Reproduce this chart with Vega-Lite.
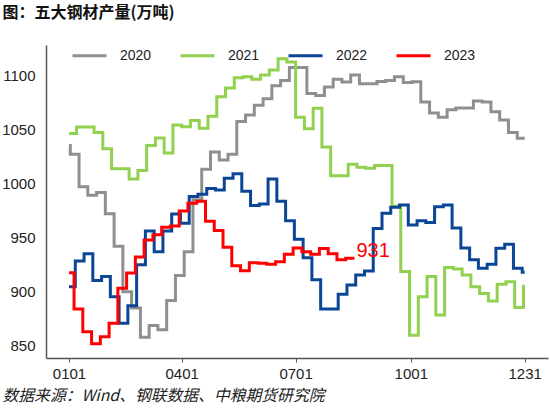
{
  "$schema": "https://vega.github.io/schema/vega-lite/v6.json",
  "width": 502,
  "height": 313,
  "autosize": {"type": "none"},
  "padding": {"left": 46, "top": 45, "right": 2, "bottom": 57},
  "background": "white",
  "config": {
    "view": {"stroke": null},
    "font": "Liberation Sans"
  },
  "layer": [
    {
      "data": {
        "values": [
          {"year": "2020", "day": 0, "value": 1035},
          {"year": "2020", "day": 1, "value": 1027},
          {"year": "2020", "day": 8, "value": 997},
          {"year": "2020", "day": 15, "value": 989},
          {"year": "2020", "day": 22, "value": 991.5},
          {"year": "2020", "day": 29, "value": 972},
          {"year": "2020", "day": 36, "value": 942},
          {"year": "2020", "day": 43, "value": 900},
          {"year": "2020", "day": 50, "value": 885},
          {"year": "2020", "day": 57, "value": 858},
          {"year": "2020", "day": 64, "value": 869},
          {"year": "2020", "day": 71, "value": 865},
          {"year": "2020", "day": 78, "value": 892},
          {"year": "2020", "day": 85, "value": 915},
          {"year": "2020", "day": 92, "value": 937},
          {"year": "2020", "day": 99, "value": 985},
          {"year": "2020", "day": 106, "value": 1013},
          {"year": "2020", "day": 113, "value": 1029},
          {"year": "2020", "day": 120, "value": 1021.6},
          {"year": "2020", "day": 127, "value": 1027},
          {"year": "2020", "day": 134, "value": 1057},
          {"year": "2020", "day": 141, "value": 1063},
          {"year": "2020", "day": 148, "value": 1072},
          {"year": "2020", "day": 155, "value": 1078},
          {"year": "2020", "day": 162, "value": 1090},
          {"year": "2020", "day": 169, "value": 1095},
          {"year": "2020", "day": 176, "value": 1107},
          {"year": "2020", "day": 183, "value": 1107},
          {"year": "2020", "day": 190, "value": 1083},
          {"year": "2020", "day": 197, "value": 1081},
          {"year": "2020", "day": 204, "value": 1089},
          {"year": "2020", "day": 211, "value": 1096},
          {"year": "2020", "day": 218, "value": 1093.5},
          {"year": "2020", "day": 225, "value": 1100},
          {"year": "2020", "day": 232, "value": 1092},
          {"year": "2020", "day": 239, "value": 1092},
          {"year": "2020", "day": 246, "value": 1094},
          {"year": "2020", "day": 253, "value": 1095},
          {"year": "2020", "day": 260, "value": 1098.5},
          {"year": "2020", "day": 267, "value": 1093},
          {"year": "2020", "day": 274, "value": 1093.8},
          {"year": "2020", "day": 281, "value": 1075},
          {"year": "2020", "day": 288, "value": 1065},
          {"year": "2020", "day": 295, "value": 1061},
          {"year": "2020", "day": 302, "value": 1068},
          {"year": "2020", "day": 309, "value": 1069.5},
          {"year": "2020", "day": 316, "value": 1069.5},
          {"year": "2020", "day": 323, "value": 1076},
          {"year": "2020", "day": 330, "value": 1075},
          {"year": "2020", "day": 337, "value": 1066},
          {"year": "2020", "day": 344, "value": 1058.5},
          {"year": "2020", "day": 351, "value": 1047},
          {"year": "2020", "day": 358, "value": 1041.6},
          {"year": "2020", "day": 364, "value": 1041.6},

          {"year": "2021", "day": 0, "value": 1046},
          {"year": "2021", "day": 6, "value": 1052},
          {"year": "2021", "day": 13, "value": 1052},
          {"year": "2021", "day": 20, "value": 1047},
          {"year": "2021", "day": 27, "value": 1032},
          {"year": "2021", "day": 34, "value": 1013.5},
          {"year": "2021", "day": 41, "value": 1013.5},
          {"year": "2021", "day": 48, "value": 1004},
          {"year": "2021", "day": 55, "value": 1012},
          {"year": "2021", "day": 62, "value": 1035},
          {"year": "2021", "day": 69, "value": 1042},
          {"year": "2021", "day": 76, "value": 1028},
          {"year": "2021", "day": 83, "value": 1054},
          {"year": "2021", "day": 90, "value": 1052.3},
          {"year": "2021", "day": 97, "value": 1058},
          {"year": "2021", "day": 104, "value": 1051},
          {"year": "2021", "day": 111, "value": 1062},
          {"year": "2021", "day": 118, "value": 1080},
          {"year": "2021", "day": 125, "value": 1088},
          {"year": "2021", "day": 132, "value": 1097.5},
          {"year": "2021", "day": 139, "value": 1098.5},
          {"year": "2021", "day": 146, "value": 1096},
          {"year": "2021", "day": 153, "value": 1100},
          {"year": "2021", "day": 160, "value": 1104.6},
          {"year": "2021", "day": 167, "value": 1115},
          {"year": "2021", "day": 174, "value": 1112},
          {"year": "2021", "day": 181, "value": 1061},
          {"year": "2021", "day": 188, "value": 1050.5},
          {"year": "2021", "day": 195, "value": 1069.3},
          {"year": "2021", "day": 202, "value": 1033.5},
          {"year": "2021", "day": 209, "value": 1007},
          {"year": "2021", "day": 216, "value": 1007},
          {"year": "2021", "day": 223, "value": 1017.6},
          {"year": "2021", "day": 230, "value": 1015},
          {"year": "2021", "day": 237, "value": 1014},
          {"year": "2021", "day": 244, "value": 1016.5},
          {"year": "2021", "day": 251, "value": 1016.5},
          {"year": "2021", "day": 258, "value": 979},
          {"year": "2021", "day": 265, "value": 918.6},
          {"year": "2021", "day": 272, "value": 860},
          {"year": "2021", "day": 279, "value": 895.5},
          {"year": "2021", "day": 286, "value": 914},
          {"year": "2021", "day": 293, "value": 878.6},
          {"year": "2021", "day": 300, "value": 922.3},
          {"year": "2021", "day": 307, "value": 921},
          {"year": "2021", "day": 314, "value": 915.5},
          {"year": "2021", "day": 321, "value": 904.7},
          {"year": "2021", "day": 328, "value": 898.3},
          {"year": "2021", "day": 335, "value": 891.5},
          {"year": "2021", "day": 342, "value": 907},
          {"year": "2021", "day": 349, "value": 909.3},
          {"year": "2021", "day": 356, "value": 885.5},
          {"year": "2021", "day": 363, "value": 905},
          {"year": "2021", "day": 364, "value": 905},

          {"year": "2022", "day": 0, "value": 904.7},
          {"year": "2022", "day": 5, "value": 928.5},
          {"year": "2022", "day": 12, "value": 935},
          {"year": "2022", "day": 19, "value": 910.5},
          {"year": "2022", "day": 26, "value": 914},
          {"year": "2022", "day": 33, "value": 895.5},
          {"year": "2022", "day": 40, "value": 871},
          {"year": "2022", "day": 47, "value": 887},
          {"year": "2022", "day": 54, "value": 925},
          {"year": "2022", "day": 61, "value": 956},
          {"year": "2022", "day": 68, "value": 937},
          {"year": "2022", "day": 75, "value": 956},
          {"year": "2022", "day": 82, "value": 971.7},
          {"year": "2022", "day": 89, "value": 963.2},
          {"year": "2022", "day": 96, "value": 987.8},
          {"year": "2022", "day": 103, "value": 990},
          {"year": "2022", "day": 110, "value": 995.4},
          {"year": "2022", "day": 117, "value": 994},
          {"year": "2022", "day": 124, "value": 1004.7},
          {"year": "2022", "day": 131, "value": 1009},
          {"year": "2022", "day": 138, "value": 992.7},
          {"year": "2022", "day": 145, "value": 979.5},
          {"year": "2022", "day": 152, "value": 981},
          {"year": "2022", "day": 159, "value": 1004},
          {"year": "2022", "day": 166, "value": 983.5},
          {"year": "2022", "day": 173, "value": 965.5},
          {"year": "2022", "day": 180, "value": 948.5},
          {"year": "2022", "day": 187, "value": 931.5},
          {"year": "2022", "day": 194, "value": 911},
          {"year": "2022", "day": 201, "value": 884},
          {"year": "2022", "day": 208, "value": 884},
          {"year": "2022", "day": 215, "value": 897.7},
          {"year": "2022", "day": 222, "value": 906.3},
          {"year": "2022", "day": 229, "value": 915.5},
          {"year": "2022", "day": 236, "value": 919.2},
          {"year": "2022", "day": 243, "value": 958.5},
          {"year": "2022", "day": 250, "value": 972.4},
          {"year": "2022", "day": 257, "value": 978},
          {"year": "2022", "day": 264, "value": 980},
          {"year": "2022", "day": 271, "value": 961.6},
          {"year": "2022", "day": 278, "value": 965.6},
          {"year": "2022", "day": 285, "value": 964},
          {"year": "2022", "day": 292, "value": 978.5},
          {"year": "2022", "day": 299, "value": 980},
          {"year": "2022", "day": 306, "value": 958.8},
          {"year": "2022", "day": 313, "value": 940.3},
          {"year": "2022", "day": 320, "value": 929.5},
          {"year": "2022", "day": 327, "value": 921.6},
          {"year": "2022", "day": 334, "value": 925.3},
          {"year": "2022", "day": 341, "value": 940.1},
          {"year": "2022", "day": 348, "value": 943.8},
          {"year": "2022", "day": 355, "value": 921.6},
          {"year": "2022", "day": 362, "value": 918},
          {"year": "2022", "day": 364, "value": 918},

          {"year": "2023", "day": 0, "value": 917.5},
          {"year": "2023", "day": 4, "value": 884},
          {"year": "2023", "day": 11, "value": 863.2},
          {"year": "2023", "day": 18, "value": 852},
          {"year": "2023", "day": 25, "value": 858.6},
          {"year": "2023", "day": 32, "value": 871},
          {"year": "2023", "day": 39, "value": 903.2},
          {"year": "2023", "day": 46, "value": 917.3},
          {"year": "2023", "day": 53, "value": 932},
          {"year": "2023", "day": 60, "value": 947.8},
          {"year": "2023", "day": 67, "value": 952.7},
          {"year": "2023", "day": 74, "value": 959.5},
          {"year": "2023", "day": 81, "value": 960.7},
          {"year": "2023", "day": 88, "value": 974.5},
          {"year": "2023", "day": 95, "value": 981.6},
          {"year": "2023", "day": 102, "value": 983.5},
          {"year": "2023", "day": 109, "value": 965},
          {"year": "2023", "day": 116, "value": 956.5},
          {"year": "2023", "day": 123, "value": 941},
          {"year": "2023", "day": 130, "value": 924},
          {"year": "2023", "day": 137, "value": 919.5},
          {"year": "2023", "day": 144, "value": 926.7},
          {"year": "2023", "day": 151, "value": 926.3},
          {"year": "2023", "day": 158, "value": 925.3},
          {"year": "2023", "day": 165, "value": 927.8},
          {"year": "2023", "day": 172, "value": 934.6},
          {"year": "2023", "day": 179, "value": 940.5},
          {"year": "2023", "day": 186, "value": 937},
          {"year": "2023", "day": 193, "value": 934.6},
          {"year": "2023", "day": 200, "value": 940},
          {"year": "2023", "day": 207, "value": 935},
          {"year": "2023", "day": 214, "value": 929.5},
          {"year": "2023", "day": 221, "value": 931},
          {"year": "2023", "day": 228, "value": 931}
        ]
      },
      "mark": {"type": "line", "interpolate": "step-after", "strokeWidth": 3},
      "encoding": {
        "x": {
          "field": "day",
          "type": "quantitative",
          "scale": {"domain": [-18.4, 382.6], "nice": false, "zero": false},
          "axis": {
            "values": [0, 90, 181, 273, 364],
            "labelExpr": "datum.value == 0 ? '0101' : datum.value == 90 ? '0401' : datum.value == 181 ? '0701' : datum.value == 273 ? '1001' : '1231'",
            "grid": false,
            "domainColor": "#555555",
            "domainWidth": 1.5,
            "tickColor": "#555555",
            "tickSize": 4,
            "labelPadding": 4,
            "labelFontSize": 15,
            "labelColor": "#222222",
            "labelFont": "Liberation Sans",
            "title": "数据来源：Wind、钢联数据、中粮期货研究院",
            "titleX": -44,
            "titleY": 37,
            "titleAlign": "left",
            "titleAnchor": "start",
            "titleBaseline": "middle",
            "titleFont": "Noto Sans CJK SC",
            "titleFontSize": 15.8,
            "titleFontStyle": "italic",
            "titleFontWeight": "normal",
            "titleColor": "#222222"
          }
        },
        "y": {
          "field": "value",
          "type": "quantitative",
          "scale": {"domain": [838.9, 1127.7], "nice": false, "zero": false},
          "axis": {
            "values": [850, 900, 950, 1000, 1050, 1100],
            "format": "d",
            "grid": false,
            "ticks": false,
            "domainColor": "#555555",
            "domainWidth": 1.5,
            "labelPadding": 11,
            "labelFontSize": 15,
            "labelColor": "#222222",
            "labelFont": "Liberation Sans",
            "title": "图：五大钢材产量(万吨)",
            "titleAngle": 0,
            "titleX": -44,
            "titleY": -33,
            "titleAlign": "left",
            "titleBaseline": "middle",
            "titleFont": "Noto Sans CJK SC",
            "titleFontSize": 16,
            "titleFontWeight": "bold",
            "titleColor": "#111111"
          }
        },
        "color": {
          "field": "year",
          "type": "nominal",
          "scale": {
            "domain": ["2020", "2021", "2022", "2023"],
            "range": ["#8f8f8f", "#92d050", "#0b4595", "#ff0000"]
          },
          "legend": {
            "orient": "none",
            "legendX": 25,
            "legendY": -8,
            "direction": "horizontal",
            "columns": 4,
            "title": null,
            "padding": 0,
            "symbolType": "stroke",
            "symbolSize": 1156,
            "symbolStrokeWidth": 3,
            "labelFontSize": 14,
            "labelFont": "Liberation Sans",
            "labelColor": "#222222",
            "labelOffset": 12,
            "columnPadding": 22
          }
        }
      }
    },
    {
      "data": {"values": [{"day": 228, "value": 931, "label": "931"}]},
      "mark": {"type": "text", "align": "left", "baseline": "alphabetic", "dx": 2, "dy": -1, "fontSize": 20, "color": "#ff0000", "font": "Liberation Sans"},
      "encoding": {
        "x": {"field": "day", "type": "quantitative"},
        "y": {"field": "value", "type": "quantitative"},
        "text": {"field": "label"}
      }
    }
  ]
}
